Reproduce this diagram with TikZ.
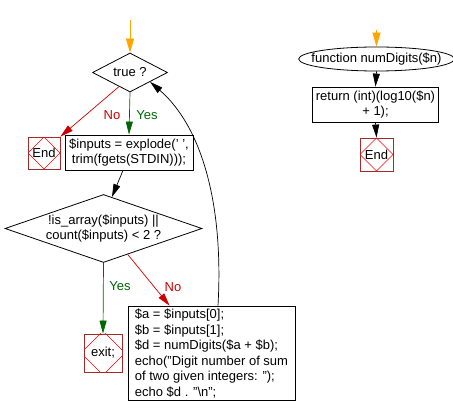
\documentclass[tikz,border=0pt]{standalone}
\usepackage{fontspec}
\setmainfont{Liberation Sans}
\usetikzlibrary{shapes.geometric,arrows.meta,calc}
\definecolor{frame}{HTML}{A52A2A}
\definecolor{nored}{HTML}{CC0000}
\definecolor{yesgreen}{HTML}{006600}
\definecolor{startor}{HTML}{FFA500}
\tikzset{
  txt/.style={font=\fontsize{13}{15.5}\selectfont},
  proc/.style={txt, draw, rectangle, inner sep=3pt, line width=0.8pt},
  dec/.style={txt, draw, diamond, inner sep=0pt, line width=0.8pt, align=center},
  term/.style={txt, draw=frame, rectangle, inner sep=0pt, line width=0.8pt,
    path picture={\draw[red, line width=0.7pt]
      ([yshift=#1]path picture bounding box.north) -- ([xshift=#1]path picture bounding box.east)
      -- ([yshift=-#1]path picture bounding box.south) -- ([xshift=-#1]path picture bounding box.west) -- cycle;}},
  arr/.style={draw=black, line width=0.7pt, -{Triangle[length=13pt,width=7pt]}},
  yesarr/.style={arr, draw=yesgreen, -{Triangle[length=13pt,width=7pt,fill=yesgreen]}},
  noarr/.style={arr, draw=nored, -{Triangle[length=13pt,width=7pt,fill=nored]}},
  startarr/.style={arr, draw=startor, -{Triangle[length=14pt,width=8pt,fill=startor]}},
  yeslab/.style={txt, text=yesgreen},
  nolab/.style={txt, text=nored},
}
\begin{document}
\begin{tikzpicture}[x=1pt, y=-1pt]
  \useasboundingbox (0,0) rectangle (453,414);
  \coordinate (s1) at (130,20);
  \node[dec, aspect=1.9, minimum width=75pt, minimum height=39pt] (t1) at (130,72.5) {true ?};
  \node[proc, minimum width=128pt, minimum height=35pt, align=center] (in1) at (129,152.5)
    {\$inputs = explode(' ',\\trim(fgets(STDIN)));};
  \node[term=0pt, minimum size=32pt] (end1) at (44,153) {End};
  \node[dec, aspect=2.9, minimum width=197pt, minimum height=68pt] (d2) at (103.5,228.5)
    {!is\_array(\$inputs) ||\\count(\$inputs) < 2 ?};
  \node[term=3pt, minimum size=38pt] (exit) at (103,353) {exit;};
  \node[proc, minimum width=167pt, minimum height=93pt, align=left] (calc) at (211.5,353.5)
    {\$a = \$inputs[0];\\\$b = \$inputs[1];\\\$d = numDigits(\$a + \$b);\\echo("Digit number of sum\\of two given integers: ");\\echo \$d . "\textbackslash n";};

  \coordinate (s2) at (376.5,30);
  \node[txt, draw, ellipse, inner xsep=-10pt, inner ysep=2pt, line width=0.8pt, minimum height=24pt] (fn) at (376.5,59) {function numDigits(\$n)};
  \node[proc, minimum width=125pt, minimum height=35pt, align=center] (ret) at (375.5,104.5)
    {return (int)(log10(\$n)\\+ 1);};
  \node[term=0pt, minimum size=33pt] (end2) at (376.5,154.5) {End};

  \draw[startarr] (s1) -- (t1.north);
  \draw[yesarr] (t1.south) -- (in1.north);
  \draw[noarr] (t1.232) -- (end1.north east);
  \draw[arr] ([xshift=-6pt]in1.south) -- (d2.75);
  \draw[yesarr] (d2.south) -- (exit.north);
  \draw[noarr] (d2.-47) -- ([xshift=42pt]calc.north west);
  \draw[arr] ([xshift=6.5pt]calc.north) .. controls (224,200) and (200,125) .. (t1.-25);
  \node[yeslab] (y1) at (147,115) {Yes};
  \node[nolab] (n1) at (112,115) {No};
  \node[yeslab] (y2) at (120,286) {Yes};
  \node[nolab] (n2) at (173,287) {No};

  \draw[startarr] (s2) -- (fn.north);
  \draw[arr] (fn.south) -- (ret.north);
  \draw[arr] (ret.south) -- (end2.north);
\end{tikzpicture}
\end{document}
